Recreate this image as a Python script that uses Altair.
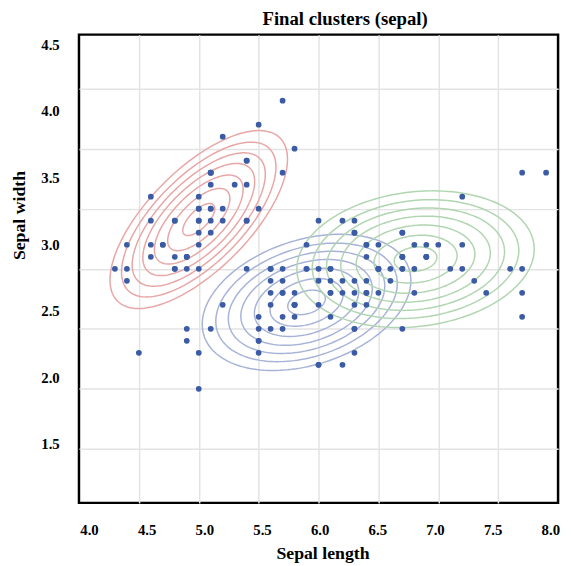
import altair as alt
import numpy as np
import pandas as pd

# Iris sepal measurements (points in the scatter)
sepal_length = [
    5.1, 4.9, 4.7, 4.6, 5.0, 5.4, 4.6, 5.0, 4.4, 4.9, 5.4, 4.8, 4.8, 4.3, 5.8, 5.7, 5.4, 5.1, 5.7, 5.1,
    5.4, 5.1, 4.6, 5.1, 4.8, 5.0, 5.0, 5.2, 5.2, 4.7, 4.8, 5.4, 5.2, 5.5, 4.9, 5.0, 5.5, 4.9, 4.4, 5.1,
    5.0, 4.5, 4.4, 5.0, 5.1, 4.8, 5.1, 4.6, 5.3, 5.0,
    7.0, 6.4, 6.9, 5.5, 6.5, 5.7, 6.3, 4.9, 6.6, 5.2, 5.0, 5.9, 6.0, 6.1, 5.6, 6.7, 5.6, 5.8, 6.2, 5.6,
    5.9, 6.1, 6.3, 6.1, 6.4, 6.6, 6.8, 6.7, 6.0, 5.7, 5.5, 5.5, 5.8, 6.0, 5.4, 6.0, 6.7, 6.3, 5.6, 5.5,
    5.5, 6.1, 5.8, 5.0, 5.6, 5.7, 5.7, 6.2, 5.1, 5.7,
    6.3, 5.8, 7.1, 6.3, 6.5, 7.6, 4.9, 7.3, 6.7, 7.2, 6.5, 6.4, 6.8, 5.7, 5.8, 6.4, 6.5, 7.7, 7.7, 6.0,
    6.9, 5.6, 7.7, 6.3, 6.7, 7.2, 6.2, 6.1, 6.4, 7.2, 7.4, 7.9, 6.4, 6.3, 6.1, 7.7, 6.3, 6.4, 6.0, 6.9,
    6.7, 6.9, 5.8, 6.8, 6.7, 6.7, 6.3, 6.5, 6.2, 5.9,
]
sepal_width = [
    3.5, 3.0, 3.2, 3.1, 3.6, 3.9, 3.4, 3.4, 2.9, 3.1, 3.7, 3.4, 3.0, 3.0, 4.0, 4.4, 3.9, 3.5, 3.8, 3.8,
    3.4, 3.7, 3.6, 3.3, 3.4, 3.0, 3.4, 3.5, 3.4, 3.2, 3.1, 3.4, 4.1, 4.2, 3.1, 3.2, 3.5, 3.1, 3.0, 3.4,
    3.5, 2.3, 3.2, 3.5, 3.8, 3.0, 3.8, 3.2, 3.7, 3.3,
    3.2, 3.2, 3.1, 2.3, 2.8, 2.8, 3.3, 2.4, 2.9, 2.7, 2.0, 3.0, 2.2, 2.9, 2.9, 3.1, 3.0, 2.7, 2.2, 2.5,
    3.2, 2.8, 2.5, 2.8, 2.9, 3.0, 2.8, 3.0, 2.9, 2.6, 2.4, 2.4, 2.7, 2.7, 3.0, 3.4, 3.1, 2.3, 3.0, 2.5,
    2.6, 3.0, 2.6, 2.3, 2.7, 3.0, 2.9, 2.9, 2.5, 2.8,
    3.3, 2.7, 3.0, 2.9, 3.0, 3.0, 2.5, 2.9, 2.5, 3.6, 3.2, 2.7, 3.0, 2.5, 2.8, 3.2, 3.0, 3.8, 2.6, 2.2,
    3.2, 2.8, 2.8, 2.7, 3.3, 3.2, 2.8, 3.0, 2.8, 3.0, 2.8, 3.8, 2.8, 2.8, 2.6, 3.0, 3.4, 3.1, 3.0, 3.1,
    3.1, 3.1, 2.7, 3.2, 3.3, 3.0, 2.5, 3.0, 3.4, 3.0,
]

# Cluster contour ellipses
cluster_ids = ["c1", "c2", "c3"]
cluster_cx = [5.0, 5.90, 6.81]
cluster_cy = [3.41, 2.72, 3.08]
cluster_semi_major = [0.96, 0.90, 0.996]
cluster_semi_minor = [0.42, 0.52, 0.56]
cluster_angle_deg = [45, 18, 7]
cluster_colors = ["#e8a6a6", "#a7b4d8", "#b0d5b0"]
ring_fractions = [0.18, 0.35, 0.5, 0.63, 0.75, 0.87, 1.0]

# Axis ticks
x_ticks = [4.0, 4.5, 5.0, 5.5, 6.0, 6.5, 7.0, 7.5, 8.0]
y_ticks = [1.5, 2.0, 2.5, 3.0, 3.5, 4.0, 4.5]
x_grid = [4.5, 5.0, 5.5, 6.0, 6.5, 7.0, 7.5]
y_grid = [1.5, 2.0, 2.5, 3.0, 3.5, 4.0, 4.5]

points_df = pd.DataFrame({"sl": sepal_length, "sw": sepal_width})

rows = []
t = np.linspace(0, 2 * np.pi, 160)
for cid, cx, cy, a, b, ang in zip(cluster_ids, cluster_cx, cluster_cy,
                                   cluster_semi_major, cluster_semi_minor, cluster_angle_deg):
    th = np.deg2rad(ang)
    for ri, f in enumerate(ring_fractions):
        xs = cx + f * (a * np.cos(t) * np.cos(th) - b * np.sin(t) * np.sin(th))
        ys = cy + f * (a * np.cos(t) * np.sin(th) + b * np.sin(t) * np.cos(th))
        for i, (xv, yv) in enumerate(zip(xs, ys)):
            rows.append({"x": xv, "y": yv, "cluster": cid, "ring": f"{cid}-{ri}", "i": i})
ell_df = pd.DataFrame(rows)

FONT = "Liberation Serif"
xs_main = alt.Scale(domain=[4.0, 8.0], nice=False, zero=False)
ys_main = alt.Scale(domain=[1.05, 4.95], nice=False, zero=False)

grid_x_axis = alt.Axis(orient="bottom", values=x_grid, grid=True, gridColor="#e3e3e3",
                       gridWidth=1.5, labels=False, ticks=False, domain=False, title=None)
grid_y_axis = alt.Axis(orient="left", values=y_grid, grid=True, gridColor="#e3e3e3",
                       gridWidth=1.5, labels=False, ticks=False, domain=False, title=None)

ellipses = alt.Chart(ell_df).mark_line(strokeWidth=1.5).encode(
    x=alt.X("x:Q", scale=xs_main, axis=None),
    y=alt.Y("y:Q", scale=ys_main, axis=None),
    color=alt.Color("cluster:N", scale=alt.Scale(domain=cluster_ids, range=cluster_colors), legend=None),
    detail="ring:N",
    order="i:Q",
)

points = alt.Chart(points_df).mark_circle(size=34, color="#3b5ba5", opacity=1).encode(
    x=alt.X("sl:Q", scale=xs_main, axis=grid_x_axis),
    y=alt.Y("sw:Q", scale=ys_main, axis=grid_y_axis),
)

xlab = alt.Chart(pd.DataFrame({"v": x_ticks})).mark_point(opacity=0).encode(
    x=alt.X("v:Q", scale=alt.Scale(domain=[3.913, 8.067], nice=False, zero=False),
            axis=alt.Axis(orient="bottom", values=x_ticks, format=".1f", grid=False, ticks=False,
                          tickSize=0, domain=False, labelPadding=20, title="Sepal length",
                          titleBaseline="alphabetic", titleX=247, titleY=56)),
)

ylab = alt.Chart(pd.DataFrame({"v": y_ticks})).mark_point(opacity=0).encode(
    y=alt.Y("v:Q", scale=alt.Scale(domain=[1.0556, 4.574], nice=False, zero=False),
            axis=alt.Axis(orient="left", values=y_ticks, format=".1f", grid=False, ticks=False,
                          tickSize=0, domain=False, labelPadding=20, title="Sepal width",
                          titleBaseline="alphabetic", titleAngle=270, titleX=-55, titleY=183)),
)

chart = alt.layer(ellipses, points, xlab, ylab).resolve_scale(
    x="independent", y="independent"
).properties(
    width=486,
    height=475,
    title=alt.TitleParams("Final clusters (sepal)", font=FONT, fontSize=19, fontWeight="bold",
                          color="black", anchor="middle", frame="group", dx=27, dy=18,
                          baseline="alphabetic", offset=9),
    padding={"left": 72, "top": 23, "right": 5, "bottom": 60},
    autosize=alt.AutoSizeParams(type="none"),
).configure_view(
    stroke="black", strokeWidth=2.5
).configure_axis(
    labelFont=FONT, labelFontSize=15, labelFontWeight="bold", labelColor="black",
    titleFont=FONT, titleFontSize=18, titleFontWeight="bold", titleColor="black",
)

chart.save("out.html", embed_options={"renderer": "svg", "actions": False})
